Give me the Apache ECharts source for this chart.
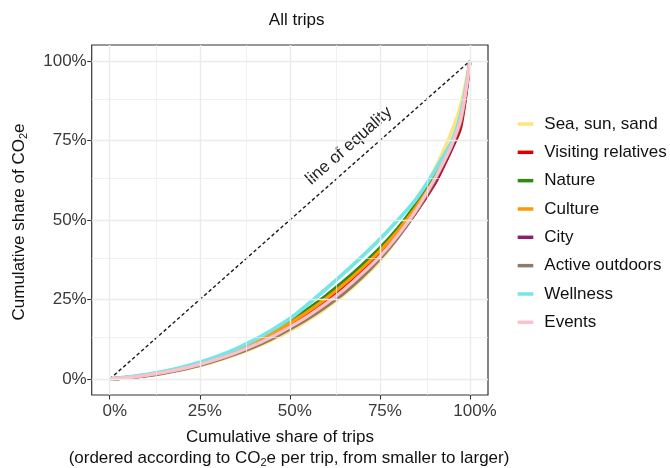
<!DOCTYPE html>
<html lang="en">
<head>
    <meta charset="UTF-8">
    <title>All trips</title>
    <script src="https://cdn.jsdelivr.net/npm/echarts@6.0.0/dist/echarts.min.js"></script>
</head>
<style>
    html, body {
        margin: 0;
        background-color: #FFFFFF;
    }
</style>
<body>
<div id="main" style="width: 670px;height:468px;"></div>
<script>
    // cumulative share of trips (x) and of CO2e (y) per trip type
    var tripShare = [0, .05, .1, .15, .2, .25, .3, .35, .4, .45, .5, .55, .6, .65, .7, .75, .8, .85, .9, .925, .95, .975, 1];

    var seaSunSand        = [0, .004, .010, .018, .029, .042, .058, .077, .098, .123, .152, .185, .222, .265, .315, .372, .445, .540, .655, .715, .780, .865, 1];
    var visitingRelatives = [0, .005, .012, .021, .033, .048, .066, .087, .111, .139, .170, .205, .245, .290, .340, .395, .455, .525, .610, .665, .725, .795, 1];
    var nature            = [0, .005, .013, .023, .035, .051, .070, .092, .118, .148, .182, .220, .262, .308, .358, .412, .475, .550, .635, .685, .740, .825, 1];
    var culture           = [0, .005, .012, .022, .034, .049, .068, .089, .114, .143, .176, .212, .253, .298, .348, .403, .466, .540, .625, .678, .735, .815, 1];
    var city              = [0, .004, .011, .020, .031, .045, .062, .082, .105, .132, .162, .196, .235, .279, .328, .383, .448, .524, .615, .670, .730, .810, 1];
    var activeOutdoors    = [0, .004, .010, .019, .030, .043, .060, .079, .101, .127, .157, .190, .228, .270, .320, .378, .445, .525, .620, .675, .735, .812, 1];
    var wellness          = [0, .006, .014, .024, .037, .053, .072, .095, .122, .154, .190, .235, .283, .333, .385, .440, .500, .565, .650, .698, .748, .835, 1];
    var events            = [0, .005, .012, .021, .032, .046, .063, .083, .106, .133, .164, .198, .237, .281, .331, .386, .452, .530, .625, .678, .738, .820, 1];

    var tripTypes = ['Sea, sun, sand', 'Visiting relatives', 'Nature', 'Culture', 'City', 'Active outdoors', 'Wellness', 'Events'];
    var typeValues = [seaSunSand, visitingRelatives, nature, culture, city, activeOutdoors, wellness, events];
    var typeColors = ['#FFE47A', '#DD0000', '#2F8A0E', '#FF9900', '#8E1E68', '#8C7B6B', '#74E6E6', '#FFC0CB'];
    var typeWidths = [3.3, 3.3, 3.3, 3.3, 3.3, 3.3, 3.8, 3.3];

    var majorTicks = [0, .25, .5, .75, 1];
    var minorTicks = [.125, .375, .625, .875];

    var FONT = "'Liberation Sans', Arial, sans-serif";

    var myChart = echarts.init(document.getElementById('main'));

    function pct(v) {
        return Math.round(v * 100) + '%';
    }

    // panel grid lines, drawn with the equality line series
    var gridLines = [];
    majorTicks.forEach(function (v) {
        gridLines.push({xAxis: v, lineStyle: {width: 1.4}});
        gridLines.push({yAxis: v, lineStyle: {width: 1.4}});
    });
    minorTicks.forEach(function (v) {
        gridLines.push({xAxis: v, lineStyle: {width: 0.7}});
        gridLines.push({yAxis: v, lineStyle: {width: 0.7}});
    });

    var series = [{
        name: 'equality',
        type: 'line',
        data: [[0, 0], [1, 1]],
        symbol: 'none',
        silent: true,
        z: 1,
        lineStyle: {color: '#1a1a1a', width: 1.4, type: [3.5, 2.5]},
        markLine: {
            silent: true,
            symbol: ['none', 'none'],
            label: {show: false},
            animation: false,
            lineStyle: {color: '#EBEBEB', type: 'solid'},
            data: gridLines
        }
    }];
    tripTypes.forEach(function (name, i) {
        series.push({
            name: name,
            type: 'line',
            smooth: 0.3,
            symbol: 'none',
            z: 2,
            color: typeColors[i],
            lineStyle: {width: typeWidths[i]},
            data: tripShare.map(function (x, j) { return [x, typeValues[i][j]]; })
        });
    });

    var option = {
        animation: false,
        grid: {
            left: 91.7, right: 182, top: 45, bottom: 73,
            show: true, borderColor: '#333', borderWidth: 1.2, backgroundColor: 'transparent'
        },
        legend: {
            data: tripTypes,
            orient: 'vertical',
            left: 517.7,
            top: 114,
            padding: 0,
            icon: 'rect',
            itemWidth: 15.6,
            itemHeight: 3.5,
            itemGap: 8.33,
            textStyle: {fontSize: 17, fontFamily: FONT, color: '#111', lineHeight: 20, padding: [0, 0, 0, 6]}
        },
        xAxis: {
            type: 'value', min: -0.05, max: 1.05,
            axisLine: {show: false, onZero: false},
            axisTick: {show: true, length: 4.5, customValues: majorTicks, lineStyle: {color: '#333', width: 1.1}},
            axisLabel: {customValues: majorTicks, formatter: pct, fontSize: 17, fontFamily: FONT, color: '#3a3a3a', margin: 8, padding: [0, 0, 0, 10]},
            splitLine: {show: false}
        },
        yAxis: {
            type: 'value', min: -0.05, max: 1.05,
            axisLine: {show: false, onZero: false},
            axisTick: {show: true, length: 4.5, customValues: majorTicks, lineStyle: {color: '#333', width: 1.1}},
            axisLabel: {customValues: majorTicks, formatter: pct, fontSize: 17, fontFamily: FONT, color: '#3a3a3a', margin: 5},
            splitLine: {show: false}
        },
        series: series
    };
    myChart.setOption(option);

    // texts: title, axis titles (with subscript), equality label
    var subRich = {sub: {fontSize: 11, lineHeight: 8, verticalAlign: 'bottom', fontFamily: FONT, fill: '#111'}};
    function label(x, y, text, rot, color) {
        return {
            type: 'text', x: x, y: y, rotation: rot || 0, silent: true,
            style: {
                text: text, fontSize: 17, fontFamily: FONT, fill: color || '#111', lineHeight: 20,
                align: 'center', verticalAlign: 'middle', rich: subRich
            }
        };
    }
    var p0 = myChart.convertToPixel({gridIndex: 0}, [0, 0]);
    var p1 = myChart.convertToPixel({gridIndex: 0}, [1, 1]);
    var eqAngle = Math.atan2(p0[1] - p1[1], p1[0] - p0[0]);
    var eqPos = myChart.convertToPixel({gridIndex: 0}, [0.664, 0.733]);

    myChart.setOption({
        graphic: [
            label(296.7, 20, 'All trips'),
            label(19.3, 222, 'Cumulative share of CO{sub|2}e', Math.PI / 2),
            label(280, 437, 'Cumulative share of trips'),
            label(289, 458, '(ordered according to CO{sub|2}e per trip, from smaller to larger)'),
            label(eqPos[0], eqPos[1], 'line of equality', eqAngle, '#222')
        ]
    });
</script>
</body>
</html>
